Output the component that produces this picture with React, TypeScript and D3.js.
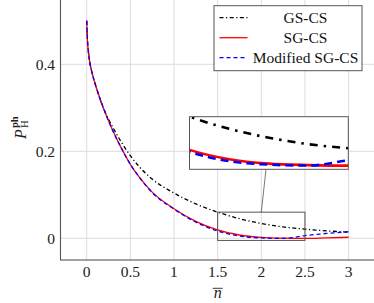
import React from 'react'
import * as d3 from 'd3'

// normalised n values shared by every curve
const nVals = [0, 0.01, 0.02, 0.035, 0.05, 0.075, 0.1, 0.15, 0.2, 0.25, 0.3, 0.4, 0.5, 0.6, 0.75, 1, 1.25, 1.5, 1.75, 2, 2.25, 2.5, 2.75, 3]

const gsCs = [0.5, 0.45, 0.428, 0.405, 0.39, 0.37, 0.353, 0.322, 0.295, 0.274, 0.255, 0.22, 0.19, 0.165, 0.136, 0.104, 0.079, 0.06, 0.045, 0.034, 0.026, 0.021, 0.017, 0.014]
const sgCs = [0.5, 0.45, 0.428, 0.405, 0.39, 0.37, 0.353, 0.322, 0.295, 0.27, 0.247, 0.206, 0.17, 0.141, 0.106, 0.068, 0.039, 0.019, 0.0075, 0.002, 0.0002, -0.0005, 0.0008, 0.0023]
const modSgCs = [0.5, 0.45, 0.428, 0.405, 0.39, 0.37, 0.353, 0.322, 0.295, 0.27, 0.247, 0.206, 0.17, 0.141, 0.105, 0.067, 0.037, 0.0165, 0.005, 0.0008, -0.0004, 0.006, 0.011, 0.015]

const xTicks = [0, 0.5, 1, 1.5, 2, 2.5, 3]
const yTicks = [0, 0.2, 0.4]
const legendLabels = ['GS-CS', 'SG-CS', 'Modified SG-CS']

// zoomed window shown in the inset
const zoomX = [1.5, 2.5]
const zoomY = [-0.005, 0.06]

const serif = 'Liberation Serif, DejaVu Serif, serif'

type S = { name: string; vals: number[]; color: string; dash: string; dashBig: string }

const series: S[] = [
  { name: legendLabels[0], vals: gsCs, color: '#000', dash: '4,2.5,1.2,2.5', dashBig: '8,6,2.5,6' },
  { name: legendLabels[1], vals: sgCs, color: '#ff0000', dash: 'none', dashBig: 'none' },
  { name: legendLabels[2], vals: modSgCs, color: '#0000ff', dash: '4,3', dashBig: '8,5' },
]

export default function App() {
  const width = 374, height = 303
  const x = d3.scaleLinear().domain([-0.3, 3.3]).range([60.5, 374.8])
  const y = d3.scaleLinear().domain([-0.05, 0.55]).range([260, -0.95])

  const ix = d3.scaleLinear().domain(zoomX).range([189.5, 348.3])
  const iy = d3.scaleLinear().domain(zoomY).range([169.3, 116.7])

  const mainLine = (vals: number[]) =>
    d3.line<number>().x((_, i) => x(nVals[i])).y((d) => y(d)).curve(d3.curveMonotoneX)(vals) || ''
  const insetLine = (vals: number[]) =>
    d3.line<number>().x((_, i) => ix(nVals[i])).y((d) => iy(d)).curve(d3.curveMonotoneX)(vals) || ''

  const [pl, pr] = x.range()
  const [pb, pt] = y.range()
  const txt = { fontFamily: serif }

  return (
    <svg width={width} height={height} style={{ position: 'absolute', left: 0, top: 0, fontFamily: serif }}>
      <defs>
        <clipPath id="plotClip">
          <rect x={pl} y={pt} width={pr - pl} height={pb - pt} />
        </clipPath>
        <clipPath id="insetClip">
          <rect x={ix.range()[0]} y={iy.range()[1]} width={ix.range()[1] - ix.range()[0]} height={iy.range()[0] - iy.range()[1]} />
        </clipPath>
      </defs>
      <rect width={width} height={height} fill="#fff" />

      {/* grid */}
      {xTicks.map((t) => (
        <line key={'gx' + t} x1={x(t)} x2={x(t)} y1={pt} y2={pb} stroke="#dcdcdc" strokeWidth={1} />
      ))}
      {yTicks.map((t) => (
        <line key={'gy' + t} x1={pl} x2={pr} y1={y(t)} y2={y(t)} stroke="#dcdcdc" strokeWidth={1} />
      ))}

      {/* curves */}
      <g clipPath="url(#plotClip)">
        {series.map((s) => (
          <path key={s.name} d={mainLine(s.vals)} fill="none" stroke={s.color} strokeWidth={1.3}
            strokeDasharray={s.dash} />
        ))}
      </g>

      {/* frame */}
      <rect x={pl} y={pt} width={pr - pl} height={pb - pt} fill="none" stroke="#555" strokeWidth={1.1} />

      {/* zoom window + connector */}
      <rect x={x(zoomX[0])} y={y(zoomY[1])} width={x(zoomX[1]) - x(zoomX[0])} height={y(zoomY[0]) - y(zoomY[1])}
        fill="none" stroke="#555" strokeWidth={1} />
      <line x1={266} y1={iy.range()[0]} x2={x((zoomX[0] + zoomX[1]) / 2)} y2={y(zoomY[1])} stroke="#555" strokeWidth={0.8} />

      {/* inset */}
      <rect x={ix.range()[0]} y={iy.range()[1]} width={ix.range()[1] - ix.range()[0]} height={iy.range()[0] - iy.range()[1]}
        fill="#fff" />
      <g clipPath="url(#insetClip)">
        {series.map((s) => (
          <path key={'i' + s.name} d={insetLine(s.vals)} fill="none" stroke={s.color} strokeWidth={2.6}
            strokeDasharray={s.dashBig} />
        ))}
      </g>
      <rect x={ix.range()[0]} y={iy.range()[1]} width={ix.range()[1] - ix.range()[0]} height={iy.range()[0] - iy.range()[1]}
        fill="none" stroke="#555" strokeWidth={1} />

      {/* tick labels */}
      {xTicks.map((t) => (
        <text key={'tx' + t} x={x(t)} y={277} textAnchor="middle" fontSize={15.5} fill="#222" style={txt}>{t}</text>
      ))}
      {yTicks.map((t) => (
        <text key={'ty' + t} x={55} y={y(t) + 6} textAnchor="end" fontSize={15.5} fill="#222" style={txt}>{t}</text>
      ))}

      {/* x label */}
      <text x={(pl + pr) / 2} y={297.5} textAnchor="middle" fontSize={16} fontStyle="italic" fill="#222" style={txt}>n</text>
      <line x1={(pl + pr) / 2 - 5} x2={(pl + pr) / 2 + 5} y1={288.3} y2={288.3} stroke="#222" strokeWidth={0.9} />

      {/* y label */}
      <g transform="translate(26,0) rotate(-90)" fill="#222">
        <text x={-139} y={0} fontSize={16} fontStyle="italic" style={txt}>P</text>
        <text x={-128} y={-8} fontSize={10.5} fontWeight="bold" style={txt}>ph</text>
        <text x={-128} y={2} fontSize={10.5} style={txt}>H</text>
      </g>

      {/* legend */}
      <rect x={214} y={5.7} width={148} height={65} fill="#fff" stroke="#555" strokeWidth={1} />
      {series.map((s, i) => {
        const cy = 17.7 + i * 20
        return (
          <g key={'lg' + s.name}>
            <line x1={219.5} x2={247.5} y1={cy} y2={cy} stroke={s.color} strokeWidth={1.3} strokeDasharray={s.dash} />
            <text x={305.5} y={cy + 5} textAnchor="middle" fontSize={15.5} fill="#111" style={txt}>{s.name}</text>
          </g>
        )
      })}
    </svg>
  )
}
